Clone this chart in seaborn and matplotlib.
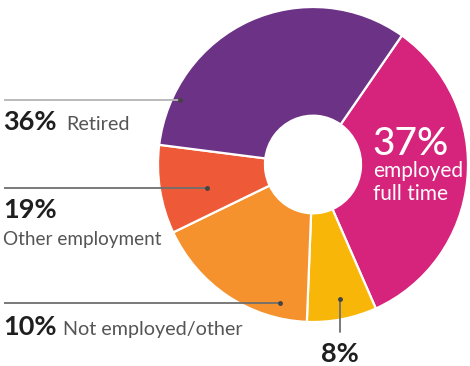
import matplotlib
matplotlib.use("Agg")
import matplotlib.pyplot as plt
import seaborn as sns

# Employment status shares, in clockwise order around the ring
categories = ["employed full time", "Unspecified", "Other employment",
              "Not employed/other", "Retired"]
values = [37, 8, 19, 10, 36]
colors = ["#d6237c", "#f8b609", "#f5922e", "#ee5a37", "#6b3285"]

# Left-hand callouts
left_pct = ["36%", "19%", "10%"]
left_desc = ["Retired", "Other employment", "Not employed/other"]

sns.set_theme(style="white")
plt.rcParams["font.family"] = ["Lato", "DejaVu Sans"]

W, H = 470, 366
fig = plt.figure(figsize=(W / 100, H / 100), dpi=100)

# Donut axes, placed in pixel terms
cx, cy, rx, ry = 313, 164.5, 155, 157.5
ax = fig.add_axes([(cx - rx) / W, (H - cy - ry) / H, 2 * rx / W, 2 * ry / H])
ax.pie(values, colors=sns.color_palette(colors), startangle=55,
       counterclock=False, radius=1,
       wedgeprops=dict(width=0.69, edgecolor="white", linewidth=1.6))
ax.set_xlim(-1, 1)
ax.set_ylim(-1, 1)
ax.set_aspect("auto")
ax.axis("off")

# Overlay for callouts in pixel coordinates
ov = fig.add_axes([0, 0, 1, 1], facecolor="none")
ov.set_xlim(0, W)
ov.set_ylim(H, 0)
ov.axis("off")

dark = "#1f1f1f"
grey = "#555555"

# Leader lines
leaders = [((4, 180), (99.5, 99.5), "#b5b5b5"),
           ((4, 207), (188, 188), "#6e6e6e"),
           ((4, 280), (303, 303), "#6e6e6e")]
for xs, ys, c in leaders:
    ov.plot(xs, ys, color=c, lw=1.3, solid_capstyle="butt")
    ov.plot(xs[1], ys[1], "o", color="#444444", ms=2.5)
ov.plot((340, 340), (299, 332), color="#6e6e6e", lw=1.3)
ov.plot(340, 299, "o", color="#444444", ms=2.5)

pct_kw = dict(fontsize=19.5, fontweight="bold", color=dark, va="baseline")
desc_kw = dict(fontsize=14.2, color=grey, va="baseline")

# Left labels
ov.text(3, 130, left_pct[0], **pct_kw)
ov.text(66, 130, left_desc[0], **desc_kw)
ov.text(3, 218, left_pct[1], **pct_kw)
ov.text(3, 245, left_desc[1], fontsize=13.6, color=grey, va="baseline")
ov.text(3, 335, left_pct[2], **pct_kw)
ov.text(63, 335, left_desc[2], **desc_kw)

# Bottom label for the small wedge
ov.text(321, 362, f"{values[1]}%", **pct_kw)

# Label inside the largest wedge
ov.text(372, 155, f"{values[0]}%", fontsize=28, fontweight="medium", color="white", va="baseline")
ov.text(373, 177, "employed", fontsize=15, color="white", va="baseline")
ov.text(373, 200, "full time", fontsize=15, color="white", va="baseline")

fig.savefig("out.png", dpi=100)
